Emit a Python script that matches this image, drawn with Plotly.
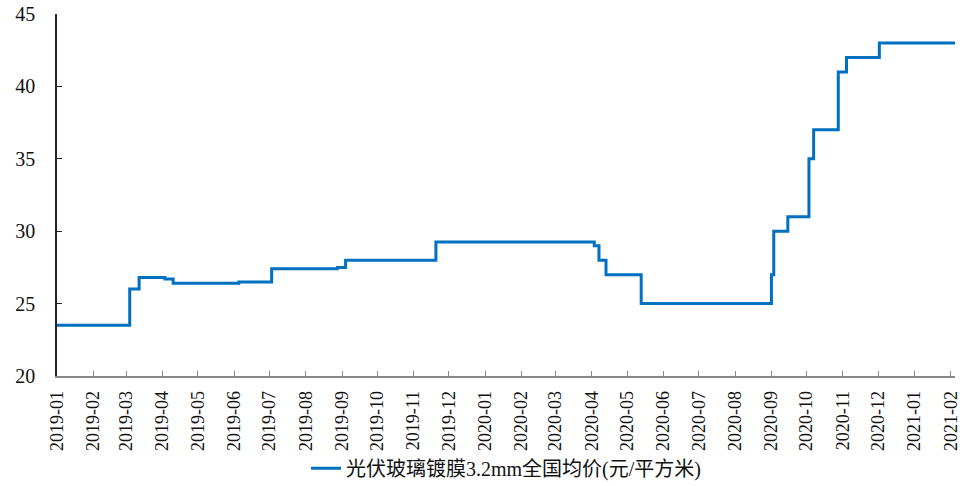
import plotly.graph_objects as go

# Weekly price change points (date the new price takes effect, price in 元/平方米)
dates = [
    "2019-01-01", "2019-03-04", "2019-03-12", "2019-04-03", "2019-04-10",
    "2019-06-05", "2019-07-03", "2019-08-28", "2019-09-04", "2019-11-20",
    "2020-04-03", "2020-04-07", "2020-04-13", "2020-05-13", "2020-09-01",
    "2020-09-03", "2020-09-15", "2020-10-03", "2020-10-07", "2020-10-28",
    "2020-11-04", "2020-12-02", "2021-02-05",
]
prices = [
    23.5, 26.0, 26.8, 26.7, 26.4,
    26.5, 27.4, 27.5, 28.0, 29.25,
    29.0, 28.0, 27.0, 25.0, 27.0,
    30.0, 31.0, 35.0, 37.0, 41.0,
    42.0, 43.0, 43.0,
]
series_name = "光伏玻璃镀膜3.2mm全国均价(元/平方米)"

font_family = "Liberation Serif, Noto Sans CJK SC, serif"

fig = go.Figure()
fig.add_trace(go.Scatter(
    x=dates, y=prices, mode="lines", name=series_name,
    line=dict(color="#0070C0", width=3, shape="hv"),
))

fig.update_layout(
    width=970, height=486,
    margin=dict(l=57, r=15, t=14, b=110, autoexpand=False),
    paper_bgcolor="white", plot_bgcolor="white",
    font=dict(family=font_family, size=17, color="#111"),
    showlegend=True,
    legend=dict(
        orientation="h", x=0.5, xanchor="center", y=-0.255, yanchor="middle",
        bgcolor="rgba(0,0,0,0)",
        font=dict(family=font_family, size=20, color="#111"),
    ),
)

fig.update_xaxes(
    type="date",
    range=["2019-01-01", "2021-02-04 12:00"],
    tick0="2019-01-01", dtick="M1", tickformat="%Y-%m",
    tickangle=-90,
    ticks="inside", ticklen=5, tickcolor="#888",
    showline=True, linecolor="#888", linewidth=1.5,
    showgrid=False, zeroline=False,
    ticklabelstandoff=6,
    tickfont=dict(family=font_family, size=18),
    automargin=False,
)
fig.update_yaxes(
    range=[20, 45], dtick=5, tick0=20,
    ticks="inside", ticklen=5, tickcolor="#222",
    showline=True, linecolor="#222", linewidth=1.5,
    showgrid=False, zeroline=False,
    ticklabelstandoff=16,
    tickfont=dict(family=font_family, size=20),
    automargin=False,
)

fig.write_html("out.html")
